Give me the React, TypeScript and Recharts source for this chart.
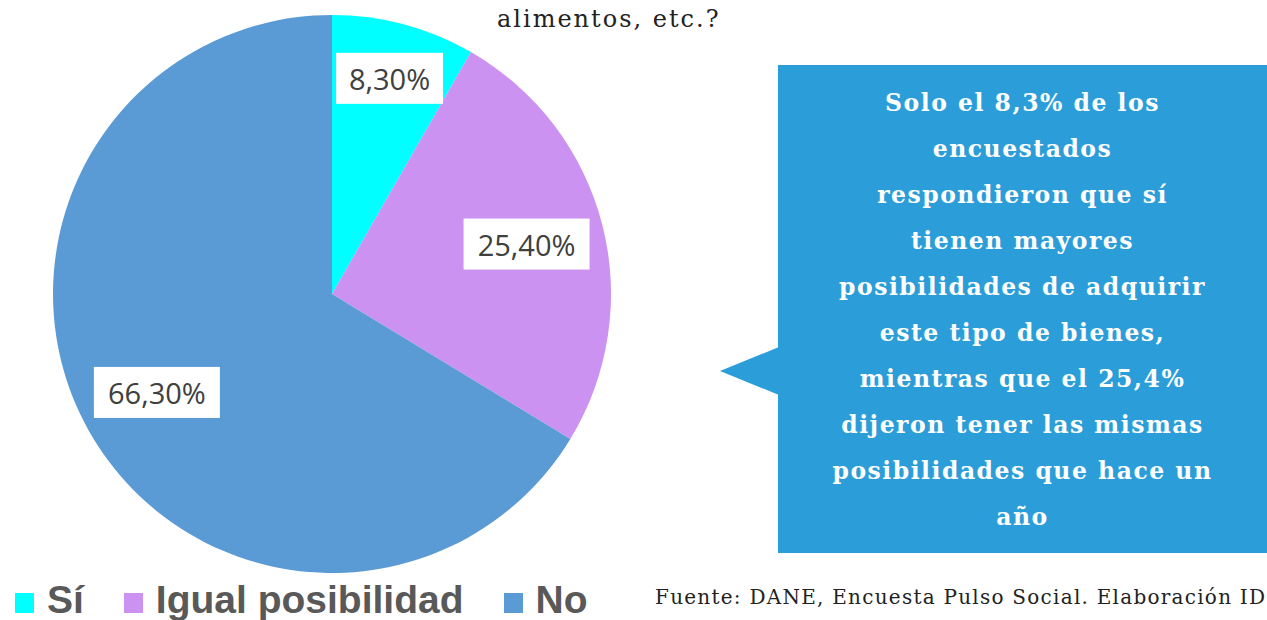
import React from 'react';
import { PieChart, Pie, Cell, Legend } from 'recharts';

// Survey answers (percent of respondents)
const categories = ['Sí', 'Igual posibilidad', 'No'];
const shares = [8.3, 25.4, 66.3];
const colors = ['#00FFFF', '#CC92F2', '#5B9BD5'];

const titleTail = 'alimentos, etc.?';
const calloutLines = [
  'Solo el 8,3% de los',
  'encuestados',
  'respondieron que sí',
  'tienen mayores',
  'posibilidades de adquirir',
  'este tipo de bienes,',
  'mientras que el 25,4%',
  'dijeron tener las mismas',
  'posibilidades que hace un',
  'año',
];
const source = 'Fuente: DANE, Encuesta Pulso Social. Elaboración ID';

const pieData = categories.map((name, i) => ({ name, value: shares[i] }));

const RADIAN = Math.PI / 180;

const fmt = (v: number) => v.toFixed(2).replace('.', ',') + '%';

function renderLabel(props: any) {
  const { cx, cy, midAngle, outerRadius, percent, value } = props;
  // small slice label sits a bit further out, like the original
  const r = outerRadius * (percent < 0.1 ? 0.8 : 0.72);
  const x = cx + r * Math.cos(-midAngle * RADIAN);
  const y = cy + r * Math.sin(-midAngle * RADIAN);
  const text = fmt(value);
  const w = text.length === 5 ? 107 : 126;
  const h = 51;
  return (
    <g>
      <rect x={x - w / 2} y={y - h / 2} width={w} height={h} fill="#fff" />
      <text
        x={x}
        y={y}
        textAnchor="middle"
        dominantBaseline="central"
        fill="#404040"
        fontFamily="'Open Sans', sans-serif"
        fontSize={29}
      >
        {text}
      </text>
    </g>
  );
}

// legend keeps the original category order
function renderLegend() {
  return (
    <div
      style={{
        display: 'flex',
        fontFamily: "'Liberation Sans', Arial, sans-serif",
        fontWeight: 700,
        fontSize: 39,
        lineHeight: '44px',
        color: '#595959',
        whiteSpace: 'nowrap',
      }}
    >
      {categories.map((name, i) => (
        <span key={name} style={{ marginRight: 40 }}>
          <span
            style={{
              display: 'inline-block',
              width: 19,
              height: 20,
              background: colors[i],
              marginRight: 13,
              verticalAlign: 'baseline',
            }}
          />
          {name}
        </span>
      ))}
    </div>
  );
}

export default function App() {
  return (
    <div
      style={{
        position: 'absolute',
        left: 0,
        top: 0,
        width: 1267,
        height: 620,
        overflow: 'hidden',
        background: '#fff',
      }}
    >
      <PieChart width={1267} height={620} margin={{ top: 0, right: 0, bottom: 0, left: 0 }}>
        <Pie
          data={pieData}
          dataKey="value"
          nameKey="name"
          cx={332}
          cy={294}
          outerRadius={279}
          startAngle={90}
          endAngle={-270}
          stroke="none"
          label={renderLabel}
          labelLine={false}
          isAnimationActive={false}
        >
          {pieData.map((d, i) => (
            <Cell key={d.name} fill={colors[i]} />
          ))}
        </Pie>
        <Legend
          content={renderLegend}
          wrapperStyle={{ left: 15, top: 578, bottom: 'auto', width: 'auto' }}
        />
      </PieChart>

      <div
        style={{
          position: 'absolute',
          left: 497,
          top: 5,
          fontFamily: "'DejaVu Serif', serif",
          fontSize: 24,
          letterSpacing: 2,
          color: '#222',
          whiteSpace: 'nowrap',
        }}
      >
        {titleTail}
      </div>

      <svg
        style={{ position: 'absolute', left: 0, top: 0 }}
        width={1267}
        height={620}
        pointerEvents="none"
      >
        <polygon points="720,371 779,347 779,395" fill="#2B9ED9" />
      </svg>
      <div
        style={{
          position: 'absolute',
          left: 778,
          top: 65,
          width: 489,
          height: 488,
          background: '#2B9ED9',
          color: '#fff',
          fontFamily: "'DejaVu Serif', serif",
          fontWeight: 700,
          fontSize: 23.5,
          letterSpacing: 1.5,
          lineHeight: '46px',
          textAlign: 'center',
          paddingTop: 15,
          boxSizing: 'border-box',
        }}
      >
        {calloutLines.map((l, i) => (
          <div key={i} style={{ whiteSpace: 'nowrap' }}>
            {l}
          </div>
        ))}
      </div>

      <div
        style={{
          position: 'absolute',
          left: 655,
          top: 585,
          fontFamily: "'DejaVu Serif', serif",
          fontSize: 20,
          letterSpacing: 1.25,
          color: '#222',
          whiteSpace: 'nowrap',
        }}
      >
        {source}
      </div>
    </div>
  );
}
